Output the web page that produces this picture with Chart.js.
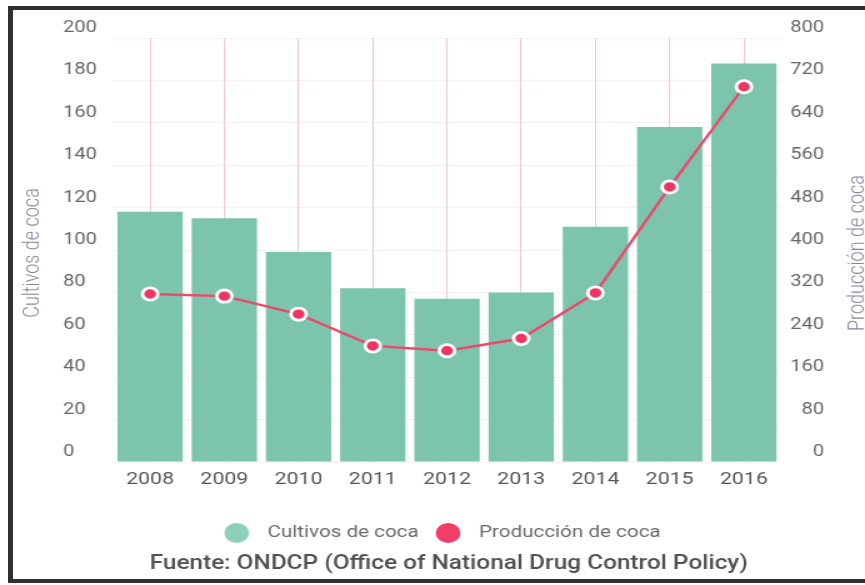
<!DOCTYPE html>
<html>
<head>
<meta charset="utf-8">
<script src="https://cdn.jsdelivr.net/npm/chart.js@4.4.1/dist/chart.umd.min.js"></script>
<style>
  html, body { margin: 0; padding: 0; background: #fff; }
  body { width: 865px; height: 585px; position: relative; overflow: hidden; }
  /* chart is drawn narrower and widened sideways */
  #wrap { position: absolute; left: 0; top: 0; width: 692px; height: 585px; transform: scaleX(1.25); transform-origin: 0 0; }
  #frame { position: absolute; left: 8px; top: 6px; right: -20px; bottom: 2px; border: 5px solid #303030; border-top-width: 4px; border-bottom-width: 4px; border-right: none; pointer-events: none; }
</style>
</head>
<body>
<div id="wrap"><canvas id="chart"></canvas></div>
<div id="frame"></div>
<script>
const years = ['2008', '2009', '2010', '2011', '2012', '2013', '2014', '2015', '2016'];
const cultivos = [118, 115, 99, 82, 77, 80, 111, 158, 188];
const produccion = [317, 313, 279, 219, 210, 233, 319, 519, 708];
const leftTicks = [0, 20, 40, 60, 80, 100, 120, 140, 160, 180, 200];
const rightTicks = [0, 80, 160, 240, 320, 400, 480, 560, 640, 720, 800];

const TEAL = '#7cc4ac';
const RED = '#ef3660';

Chart.defaults.font.family = 'Roboto, "Noto Sans", sans-serif';

// rotated axis titles and the source line under the legend
const extraText = {
    id: 'extraText',
    afterDraw(chart) {
        const ctx = chart.ctx;
        const area = chart.chartArea;
        const midY = (area.top + area.bottom) / 2 + 3;
        ctx.save();
        ctx.fillStyle = '#8f849c';
        ctx.font = '300 18px Roboto';
        ctx.textAlign = 'center';
        ctx.textBaseline = 'alphabetic';
        [[30.5, 'Cultivos de coca'], [690.5, 'Producción de coca']].forEach(([x, txt]) => {
            ctx.save();
            ctx.translate(x, midY);
            ctx.rotate(-Math.PI / 2);
            ctx.fillText(txt, 0, 0);
            ctx.restore();
        });
        ctx.fillStyle = '#505050';
        ctx.font = '500 19.5px Roboto';
        ctx.textBaseline = 'middle';
        ctx.fillText('Fuente: ONDCP (Office of National Drug Control Policy)', 359, 564);
        ctx.restore();
    }
};

new Chart(document.getElementById('chart'), {
    data: {
        labels: years,
        datasets: [{
            type: 'line',
            label: 'Producción de coca',
            data: produccion,
            yAxisID: 'y1',
            order: 0,
            borderColor: '#ea4a6c',
            borderWidth: 2.4,
            tension: 0,
            pointRadius: 6.1,
            pointHoverRadius: 6.1,
            pointBackgroundColor: RED,
            pointBorderColor: '#ffffff',
            pointBorderWidth: 2.8
        }, {
            type: 'bar',
            label: 'Cultivos de coca',
            data: cultivos,
            yAxisID: 'y',
            order: 1,
            backgroundColor: TEAL,
            categoryPercentage: 1,
            barPercentage: 0.88
        }]
    },
    options: {
        responsive: true,
        maintainAspectRatio: false,
        animation: false,
        layout: {
            padding: { top: 38, bottom: 33.75, left: 50.4, right: 32.8 }
        },
        scales: {
            x: {
                offset: true,
                grid: {
                    offset: false,
                    color: '#f0c6d0',
                    drawTicks: false
                },
                border: { display: false },
                ticks: {
                    color: '#555',
                    padding: 8,
                    font: { size: 17 }
                },
                afterFit: s => { s.height = 59.75; }
            },
            y: {
                position: 'left',
                min: 0,
                max: 200,
                afterBuildTicks: s => { s.ticks = leftTicks.map(v => ({ value: v })); },
                grid: {
                    color: 'rgba(228, 205, 214, 0.3)',
                    drawTicks: false
                },
                border: { display: false },
                ticks: {
                    color: '#666',
                    crossAlign: 'far',
                    labelOffset: -10,
                    font: { size: 16 }
                },
                afterFit: s => { s.width = 40; }
            },
            y1: {
                position: 'right',
                min: 0,
                max: 800,
                afterBuildTicks: s => { s.ticks = rightTicks.map(v => ({ value: v })); },
                grid: { display: false, drawTicks: false },
                border: { display: false },
                ticks: {
                    color: '#666',
                    crossAlign: 'far',
                    labelOffset: -10,
                    font: { size: 16 }
                },
                afterFit: s => { s.width = 34.4; }
            }
        },
        plugins: {
            legend: {
                position: 'bottom',
                reverse: true,
                labels: {
                    usePointStyle: true,
                    boxHeight: 14,
                    padding: 3,
                    color: '#6a6a6a',
                    font: { size: 16.5 },
                    generateLabels(chart) {
                        const items = Chart.defaults.plugins.legend.labels.generateLabels(chart);
                        const colors = { 'Cultivos de coca': '#8dcfbb', 'Producción de coca': '#f23d66' };
                        items.forEach(it => {
                            const c = colors[it.text];
                            it.fillStyle = c;
                            it.strokeStyle = c;
                            it.lineWidth = 0;
                            it.pointStyle = 'circle';
                            it.text = '  ' + it.text + (it.text === 'Cultivos de coca' ? '   ' : '');
                        });
                        return items;
                    }
                }
            },
            tooltip: { enabled: false }
        }
    },
    plugins: [extraText]
});
</script>
</body>
</html>
